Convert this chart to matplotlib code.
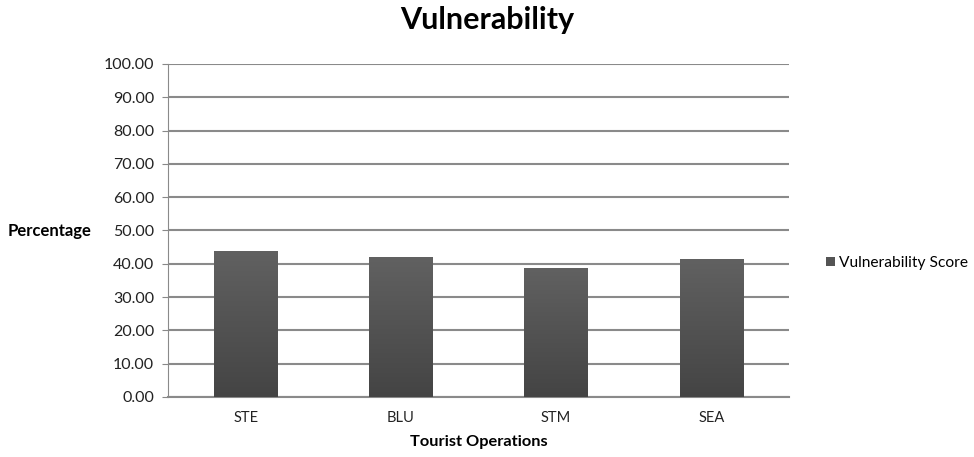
import matplotlib
matplotlib.use('Agg')
from matplotlib import pyplot as plt
from matplotlib.patches import Patch
import numpy as np

plt.rcParams['font.family'] = ['Lato', 'DejaVu Sans']

operations = ['STE', 'BLU', 'STM', 'SEA']
scores = [43.7, 41.9, 38.8, 41.3]
yticks = np.arange(0, 101, 10)

fig = plt.figure(figsize=(9.74, 4.57), dpi=100)
ax = fig.add_axes([0.1725, 0.1313, 0.6375, 0.7287])

x = np.arange(len(operations))
bars = ax.bar(x, scores, width=0.41, color='#545454', zorder=2)

# vertical shading inside each bar, light at top to dark at bottom
grad = np.linspace(0, 1, 256).reshape(-1, 1)
cmap = matplotlib.colors.LinearSegmentedColormap.from_list('bar', ['#444444', '#616161'])
for b in bars:
	x0, y0 = b.get_x(), b.get_y()
	w, h = b.get_width(), b.get_height()
	im = ax.imshow(grad, cmap=cmap, aspect='auto', origin='lower',
		extent=(x0, x0 + w, y0, y0 + h), zorder=3)
	im.set_clip_path(b)

ax.set_xlim(-0.5, len(operations) - 0.5)
ax.set_ylim(0, 100)
ax.set_yticks(yticks)
ax.set_yticklabels([f'{v:.2f}' for v in yticks], fontsize=11.5, color='#222222')
ax.set_xticks(x)
ax.set_xticklabels(operations, fontsize=10.5, color='#222222')
ax.tick_params(axis='x', length=0, pad=10)
ax.tick_params(axis='y', length=4, color='#888888', pad=6)

ax.grid(axis='y', color='#8a8a8a', linewidth=1.5, zorder=0)
ax.set_axisbelow(True)
for side in ['top', 'right']:
	ax.spines[side].set_visible(False)
ax.spines['left'].set_color('#8a8a8a')
ax.spines['bottom'].set_color('#8a8a8a')
ax.spines['bottom'].set_linewidth(1.5)

ax.set_xlabel('Tourist Operations', fontsize=11.8, fontweight='bold', labelpad=7)
fig.text(0.008, 0.495, 'Percentage', fontsize=12, fontweight='bold', va='center', ha='left')
fig.text(0.5, 0.957, 'Vulnerability', fontsize=22, fontweight='bold', ha='center', va='center')

handle = Patch(facecolor='#545454', edgecolor='none')
fig.legend([handle], ['Vulnerability Score'], loc='center left',
	bbox_to_anchor=(0.834, 0.425), frameon=False, fontsize=11.2,
	handlelength=0.55, handleheight=0.55, handletextpad=0.25)

fig.savefig('out.png', dpi=100)
